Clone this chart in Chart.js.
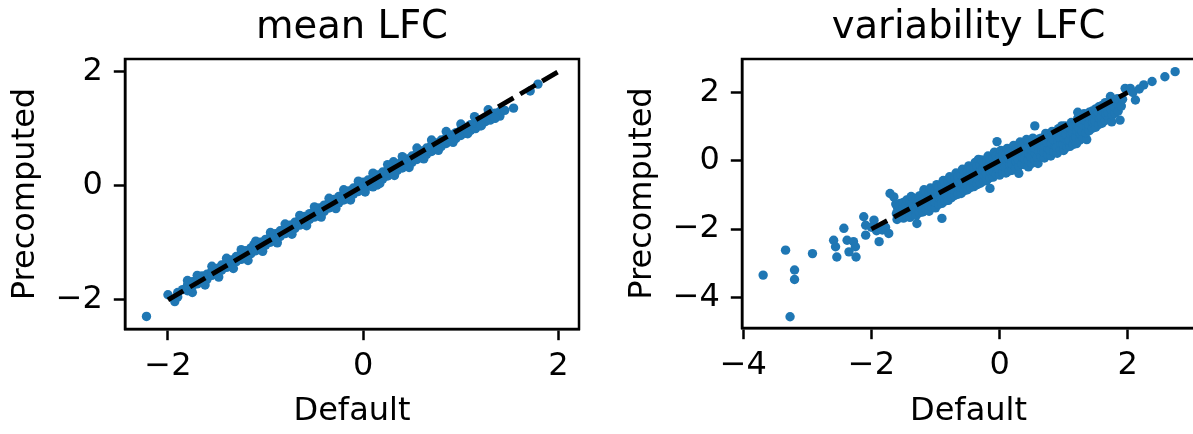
<!DOCTYPE html>
<html>
<head>
<meta charset="utf-8">
<script src="https://cdn.jsdelivr.net/npm/chart.js@4/dist/chart.umd.min.js"></script>
<style>
  html, body { margin: 0; padding: 0; background: #fff; overflow: hidden; width: 1193px; height: 434px; }
  .painel { position: absolute; top: 0; height: 434px; }
</style>
</head>
<body>
<div class="painel" style="left:0; width:600px;"><canvas id="chartMean" width="600" height="434"></canvas></div>
<div class="painel" style="left:617px; width:583px;"><canvas id="chartVar" width="583" height="434"></canvas></div>
<script>
// ===== DADOS =====
const titulos = ['mean LFC', 'variability LFC'];
const rotuloX = 'Default';
const rotuloY = 'Precomputed';

// linha de referencia y = x
const diagX = [-2, 2];
const diagY = [-2, 2];

const meanTicksX = [-2, 0, 2];
const meanTicksY = [-2, 0, 2];
const varTicksX = [-4, -2, 0, 2];
const varTicksY = [-4, -2, 0, 2];

const meanLimX = [-2.44, 2.21];
const meanLimY = [-2.51, 2.22];
const varLimX = [-4.02, 3.05];
const varLimY = [-4.9, 2.98];

// pontos [Default, Precomputed] - mean LFC
const meanPts = [
    [-2.22,-2.29],[-2.00,-1.91],[-1.93,-2.03],
    [-1.90,-1.95],[-1.90,-1.87],[-1.85,-1.82],
    [-1.80,-1.84],[-1.80,-1.74],[-1.75,-1.76],[-1.75,-1.68],
    [-1.70,-1.72],[-1.70,-1.63],[-1.65,-1.67],[-1.65,-1.58],[-1.65,-1.62],
    [-1.60,-1.64],[-1.60,-1.55],[-1.55,-1.57],[-1.55,-1.49],[-1.55,-1.53],
    [-1.50,-1.54],[-1.50,-1.45],[-1.45,-1.48],[-1.45,-1.39],[-1.45,-1.43],
    [-1.40,-1.43],[-1.40,-1.34],[-1.40,-1.38],[-1.35,-1.39],[-1.35,-1.30],
    [-1.30,-1.33],[-1.30,-1.24],[-1.30,-1.28],[-1.25,-1.29],[-1.25,-1.20],
    [-1.20,-1.24],[-1.20,-1.14],[-1.20,-1.19],[-1.15,-1.19],[-1.15,-1.09],[-1.15,-1.13],
    [-1.12,-1.03],[-1.10,-1.14],[-1.10,-1.04],
    [-1.05,-1.10],[-1.05,-0.99],[-1.05,-1.05],[-1.00,-1.04],[-1.00,-0.94],[-1.00,-0.99],
    [-0.95,-0.99],[-0.95,-0.89],[-0.90,-0.94],[-0.90,-0.84],[-0.90,-0.89],
    [-0.85,-0.89],[-0.85,-0.79],[-0.85,-0.84],[-0.80,-0.84],[-0.80,-0.74],
    [-0.75,-0.79],[-0.75,-0.69],[-0.75,-0.74],[-0.70,-0.75],[-0.70,-0.64],[-0.70,-0.69],
    [-0.65,-0.69],[-0.65,-0.59],[-0.60,-0.65],[-0.60,-0.54],[-0.60,-0.60],
    [-0.55,-0.59],[-0.55,-0.49],[-0.55,-0.54],[-0.50,-0.55],[-0.50,-0.45],
    [-0.45,-0.50],[-0.45,-0.39],[-0.45,-0.44],[-0.40,-0.45],[-0.40,-0.34],[-0.40,-0.40],
    [-0.35,-0.39],[-0.35,-0.29],[-0.30,-0.35],[-0.30,-0.24],[-0.30,-0.30],
    [-0.25,-0.30],[-0.25,-0.19],[-0.25,-0.25],[-0.20,-0.25],[-0.20,-0.14],
    [-0.15,-0.20],[-0.15,-0.09],[-0.15,-0.15],[-0.10,-0.15],[-0.10,-0.04],[-0.10,-0.10],
    [-0.05,-0.10],[-0.05,0.01],[0.00,-0.05],[0.00,0.06],[0.00,0.00],
    [0.05,-0.01],[0.05,0.10],[0.05,0.04],[0.10,0.03],[0.10,0.15],[0.10,-0.02],
    [0.14,0.01],[0.15,0.08],[0.15,0.19],[0.15,0.13],[0.20,0.12],[0.20,0.24],
    [0.25,0.17],[0.25,0.28],[0.25,0.22],[0.30,0.22],[0.30,0.33],[0.31,0.42],
    [0.35,0.27],[0.35,0.38],[0.40,0.31],[0.40,0.43],[0.40,0.37],
    [0.45,0.36],[0.45,0.47],[0.50,0.41],[0.50,0.52],[0.50,0.46],
    [0.55,0.46],[0.55,0.57],[0.55,0.51],[0.60,0.50],[0.60,0.61],
    [0.65,0.55],[0.65,0.66],[0.65,0.60],[0.70,0.60],[0.70,0.71],
    [0.75,0.64],[0.75,0.75],[0.75,0.70],[0.80,0.69],[0.80,0.80],
    [0.85,0.74],[0.85,0.84],[0.85,0.79],[0.90,0.78],[0.90,0.89],
    [0.95,0.83],[0.95,0.93],[0.95,0.88],[1.00,0.88],[1.00,0.98],
    [1.05,0.92],[1.05,1.02],[1.05,0.97],[1.09,1.00],[1.10,0.97],[1.10,1.07],
    [1.15,1.00],[1.15,1.10],[1.20,1.05],[1.20,1.15],[1.25,1.12],[1.25,1.19],
    [1.30,1.15],[1.30,1.23],[1.35,1.19],[1.35,1.27],[1.40,1.22],[1.40,1.30],
    [1.45,1.32],[1.54,1.36],[1.71,1.66],[1.79,1.78],
    // bordas da faixa
    [-1.80,-1.66],[-1.75,-1.87],[-1.70,-1.57],[-1.62,-1.74],[-1.55,-1.41],[-1.48,-1.60],
    [-1.40,-1.27],[-1.33,-1.45],[-1.25,-1.12],[-1.18,-1.31],[-1.10,-0.97],[-1.03,-1.15],
    [-0.95,-0.82],[-0.88,-1.00],[-0.80,-0.67],[-0.73,-0.85],[-0.65,-0.52],[-0.58,-0.70],
    [-0.50,-0.37],[-0.43,-0.55],[-0.35,-0.22],[-0.28,-0.40],[-0.20,-0.07],[-0.13,-0.25],
    [-0.05,0.08],[0.02,-0.11],[0.10,0.22],[0.17,0.04],[0.25,0.37],[0.32,0.18],
    [0.40,0.51],[0.47,0.32],[0.55,0.66],[0.62,0.47],[0.70,0.80],[0.77,0.62],
    [0.85,0.95],[0.92,0.76],[1.00,1.08],[1.07,0.91],[1.14,1.21],[1.21,1.05],
    [1.28,1.33],[1.35,1.18]
];

// pontos [Default, Precomputed] - variability LFC
const varPts = [
    // pontos afastados
    [-3.69,-3.35],[-3.34,-2.62],[-3.20,-3.20],[-3.20,-3.48],[-3.27,-4.57],[-2.92,-2.72],
    [-2.59,-2.33],[-2.56,-2.52],[-2.54,-2.82],[-2.43,-1.98],[-2.38,-2.33],[-2.35,-2.67],
    [-2.28,-2.37],[-2.25,-2.52],[-2.24,-2.82],[-2.12,-1.64],[-2.09,-1.89],[-2.09,-2.18],
    [-1.96,-1.74],[-1.88,-2.37],[-1.83,-2.03],[-1.73,-2.13],[-1.71,-0.96],[-1.65,-1.06],
    [-1.55,-1.25],[-1.57,-1.54],[-1.78,-1.95],[-1.92,-2.05],[-2.00,-1.95],
    // faixa principal
    [-1.60,-1.72],[-1.61,-1.55],[-1.59,-1.41],[-1.62,-1.27],
    [-1.55,-1.64],[-1.54,-1.48],[-1.56,-1.33],
    [-1.50,-1.68],[-1.49,-1.52],[-1.51,-1.38],[-1.50,-1.22],
    [-1.45,-1.60],[-1.44,-1.44],[-1.46,-1.29],[-1.45,-1.15],
    [-1.40,-1.66],[-1.41,-1.49],[-1.39,-1.33],[-1.40,-1.17],[-1.38,-1.05],
    [-1.35,-1.58],[-1.34,-1.41],[-1.36,-1.24],[-1.35,-1.10],
    [-1.30,-1.60],[-1.31,-1.44],[-1.29,-1.28],[-1.30,-1.12],[-1.29,-1.84],
    [-1.25,-1.52],[-1.24,-1.36],[-1.26,-1.19],[-1.25,-1.03],
    [-1.20,-1.50],[-1.21,-1.33],[-1.19,-1.15],[-1.20,-0.98],[-1.18,-0.85],
    [-1.15,-1.42],[-1.14,-1.26],[-1.16,-1.09],[-1.15,-0.92],
    [-1.10,-1.48],[-1.11,-1.30],[-1.09,-1.12],[-1.10,-0.95],[-1.08,-0.80],
    [-1.05,-1.36],[-1.04,-1.19],[-1.06,-1.02],[-1.05,-0.86],
    [-1.00,-1.38],[-1.01,-1.20],[-0.99,-1.02],[-1.00,-0.85],[-0.98,-0.70],
    [-0.95,-1.28],[-0.94,-1.10],[-0.96,-0.93],[-0.95,-0.77],
    [-0.90,-1.69],[-0.90,-1.25],[-0.91,-1.07],[-0.89,-0.89],[-0.90,-0.72],[-0.88,-0.58],
    [-0.85,-1.18],[-0.84,-1.00],[-0.86,-0.83],[-0.85,-0.66],
    [-0.80,-1.16],[-0.81,-0.98],[-0.79,-0.80],[-0.80,-0.62],[-0.78,-0.47],
    [-0.75,-1.08],[-0.74,-0.90],[-0.76,-0.72],[-0.75,-0.55],
    [-0.70,-1.02],[-0.71,-0.85],[-0.69,-0.67],[-0.70,-0.50],[-0.68,-0.36],
    [-0.65,-0.98],[-0.64,-0.80],[-0.66,-0.62],[-0.65,-0.45],
    [-0.60,-0.96],[-0.61,-0.78],[-0.59,-0.60],[-0.60,-0.42],[-0.58,-0.25],
    [-0.55,-0.88],[-0.54,-0.70],[-0.56,-0.52],[-0.55,-0.35],
    [-0.50,-0.85],[-0.51,-0.67],[-0.49,-0.49],[-0.50,-0.31],[-0.48,-0.15],
    [-0.45,-0.78],[-0.44,-0.60],[-0.46,-0.42],[-0.45,-0.25],
    [-0.40,-0.76],[-0.41,-0.58],[-0.39,-0.40],[-0.40,-0.22],[-0.38,-0.05],
    [-0.35,-0.70],[-0.34,-0.52],[-0.36,-0.33],[-0.35,-0.15],[-0.33,0.04],
    [-0.30,-0.66],[-0.31,-0.48],[-0.29,-0.30],[-0.30,-0.12],[-0.28,0.02],
    [-0.25,-0.60],[-0.24,-0.42],[-0.26,-0.24],[-0.25,-0.06],
    [-0.20,-0.58],[-0.21,-0.38],[-0.19,-0.20],[-0.20,-0.02],[-0.18,0.14],
    [-0.15,-0.81],[-0.15,-0.50],[-0.14,-0.32],[-0.16,-0.14],[-0.15,0.04],
    [-0.10,-0.48],[-0.11,-0.29],[-0.09,-0.10],[-0.10,0.08],[-0.08,0.25],
    [-0.05,-0.40],[-0.04,-0.22],[-0.06,-0.04],[-0.05,0.14],[-0.04,0.56],
    [0.00,-0.42],[-0.01,-0.23],[0.01,-0.05],[0.00,0.13],[0.02,0.30],
    [0.05,-0.35],[0.06,-0.16],[0.04,0.02],[0.05,0.20],
    [0.10,-0.36],[0.09,-0.18],[0.11,0.01],[0.10,0.19],[0.12,0.36],
    [0.15,-0.30],[0.16,-0.11],[0.14,0.07],[0.15,0.25],
    [0.20,-0.28],[0.19,-0.09],[0.21,0.09],[0.20,0.28],[0.22,0.45],
    [0.25,-0.22],[0.26,-0.03],[0.24,0.15],[0.25,0.33],
    [0.30,-0.37],[0.30,-0.16],[0.29,0.03],[0.31,0.21],[0.30,0.40],[0.32,0.55],
    [0.35,-0.10],[0.36,0.09],[0.34,0.27],[0.35,0.46],
    [0.40,-0.12],[0.39,0.06],[0.41,0.25],[0.40,0.43],[0.42,0.62],
    [0.45,-0.18],[0.45,0.02],[0.46,0.20],[0.44,0.38],[0.45,0.56],
    [0.50,-0.08],[0.49,0.12],[0.51,0.30],[0.50,0.48],[0.52,0.66],
    [0.55,0.02],[0.56,0.20],[0.54,0.38],[0.55,0.56],[0.55,1.02],
    [0.60,-0.08],[0.59,0.10],[0.61,0.28],[0.60,0.46],[0.62,0.64],
    [0.65,0.12],[0.66,0.30],[0.64,0.48],[0.65,0.66],
    [0.70,0.08],[0.69,0.26],[0.71,0.44],[0.70,0.62],[0.72,0.80],
    [0.75,0.18],[0.76,0.36],[0.74,0.54],[0.75,0.72],
    [0.80,0.14],[0.79,0.32],[0.81,0.50],[0.80,0.68],[0.82,0.86],
    [0.85,0.26],[0.86,0.44],[0.84,0.62],[0.85,0.80],
    [0.90,0.22],[0.89,0.40],[0.91,0.58],[0.90,0.76],[0.92,0.94],
    [0.95,0.32],[0.96,0.50],[0.94,0.68],[0.95,0.86],[0.97,1.02],
    [1.00,0.30],[0.99,0.48],[1.01,0.66],[1.00,0.84],[1.02,1.02],
    [1.05,0.40],[1.06,0.58],[1.04,0.76],[1.05,0.94],
    [1.10,0.42],[1.09,0.60],[1.11,0.78],[1.10,0.96],[1.12,1.12],
    [1.15,0.48],[1.16,0.66],[1.14,0.84],[1.15,1.02],
    [1.20,0.50],[1.19,0.70],[1.21,0.88],[1.20,1.06],[1.22,1.24],[1.22,1.42],
    [1.25,0.60],[1.26,0.78],[1.24,0.96],[1.25,1.14],
    [1.30,0.66],[1.29,0.86],[1.31,1.04],[1.30,1.22],[1.32,1.38],
    [1.36,0.62],[1.35,0.82],[1.36,1.00],[1.34,1.18],[1.35,1.32],
    [1.40,0.88],[1.39,1.06],[1.41,1.24],[1.40,1.42],
    [1.45,0.95],[1.46,1.12],[1.44,1.30],[1.45,1.46],
    [1.50,0.98],[1.49,1.16],[1.51,1.34],[1.50,1.52],
    [1.55,1.06],[1.56,1.24],[1.54,1.42],[1.55,1.58],
    [1.60,1.10],[1.59,1.28],[1.61,1.46],[1.60,1.62],
    [1.65,1.18],[1.66,1.36],[1.64,1.54],[1.65,1.70],
    [1.70,1.25],[1.69,1.42],[1.71,1.60],[1.73,1.88],
    [1.75,1.14],[1.76,1.34],[1.74,1.50],[1.75,1.68],
    [1.80,1.40],[1.79,1.58],[1.81,1.74],
    [1.85,1.45],[1.86,1.64],[1.84,1.82],
    [1.88,1.19],[1.90,1.60],[1.92,1.80],[1.96,2.12],
    // ponta superior
    [2.04,2.12],[2.12,1.78],[2.25,2.22],[2.38,2.32],[2.58,2.46],[2.74,2.61],[2.08,2.00],[2.18,2.10]
];

// ===== ESTILO =====
const FONTE = 'DejaVu Sans';
const AZUL = '#1f77b4';
const TAM_TICK = 32;
const TAM_TITULO = 38.5;

function formatarTick(v) {
    return v < 0 ? '\u2212' + Math.abs(v) : String(v);
}

// moldura (spines superior e direita)
const molduraPlugin = {
    id: 'moldura',
    afterDraw(chart) {
        const { ctx, chartArea: a } = chart;
        ctx.save();
        ctx.strokeStyle = '#000';
        ctx.lineWidth = 2.5;
        ctx.strokeRect(a.left, a.top, a.right - a.left, a.bottom - a.top);
        ctx.restore();
    }
};

function eixo(lim, ticks, titulo, tamanho, horizontal, tituloPad) {
    return {
        type: 'linear',
        min: lim[0],
        max: lim[1],
        afterBuildTicks: s => { s.ticks = ticks.map(v => ({ value: v })); },
        afterFit: s => { if (horizontal) s.height = tamanho; else s.width = tamanho; },
        grid: { display: true, drawOnChartArea: false, drawTicks: true, tickLength: 11.2, tickWidth: 2.5, tickColor: '#000' },
        border: { display: true, color: '#000', width: 2.5 },
        ticks: {
            color: '#000',
            padding: horizontal ? 7.5 : 11,
            font: { family: FONTE, size: TAM_TICK },
            maxRotation: 0,
            autoSkip: false,
            callback: formatarTick
        },
        title: { display: true, text: titulo, color: '#000', font: { family: FONTE, size: TAM_TICK }, padding: tituloPad }
    };
}

function criarGrafico(id, titulo, pts, limX, limY, ticksX, ticksY, padDireita, alturaX) {
    const ctx = document.getElementById(id).getContext('2d');
    return new Chart(ctx, {
        type: 'scatter',
        data: {
            datasets: [
                {
                    type: 'line',
                    data: diagX.map((x, i) => ({ x, y: diagY[i] })),
                    borderColor: '#000',
                    borderWidth: 4.8,
                    borderDash: [17.8, 7.7],
                    pointRadius: 0,
                    fill: false,
                    order: 0
                },
                {
                    data: pts.map(p => ({ x: p[0], y: p[1] })),
                    backgroundColor: AZUL,
                    borderWidth: 0,
                    pointRadius: 4.7,
                    order: 1
                }
            ]
        },
        options: {
            responsive: false,
            animation: false,
            events: [],
            layout: { padding: { left: 0, right: padDireita, top: 0, bottom: 0 } },
            plugins: {
                legend: { display: false },
                tooltip: { enabled: false },
                title: {
                    display: true,
                    text: titulo,
                    fullSize: false,
                    color: '#000',
                    font: { family: FONTE, size: TAM_TITULO, weight: 'normal', lineHeight: 1.2 },
                    padding: { top: 4.6, bottom: 8.2 }
                }
            },
            scales: {
                x: eixo(limX, ticksX, rotuloX, alturaX, true, { top: 0, bottom: 2.9 }),
                y: eixo(limY, ticksY, rotuloY, 125, false, { top: 6.4, bottom: 0 })
            }
        },
        plugins: [molduraPlugin]
    });
}

criarGrafico('chartMean', titulos[0], meanPts, meanLimX, meanLimY, meanTicksX, meanTicksY, 21, 105);
criarGrafico('chartVar', titulos[1], varPts, varLimX, varLimY, varTicksX, varTicksY, 5, 106);
</script>
</body>
</html>
